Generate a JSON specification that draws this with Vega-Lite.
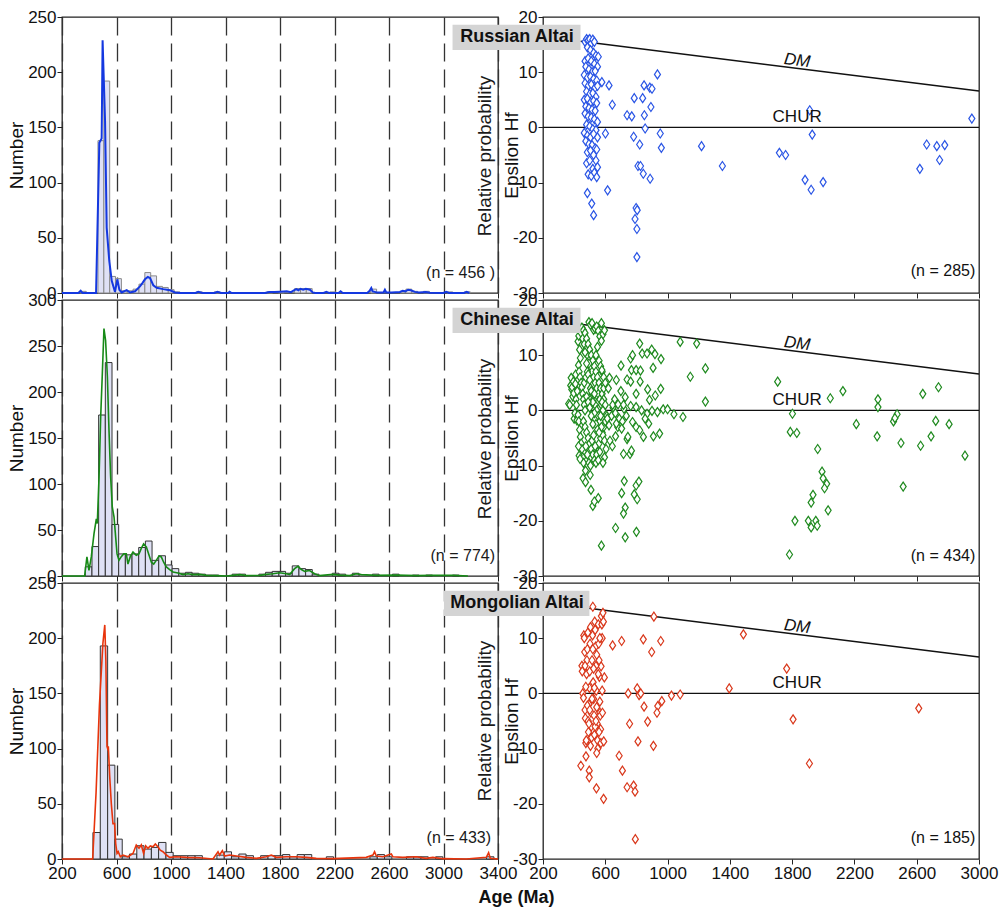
{
"$schema": "https://vega.github.io/schema/vega-lite/v6.json",
"padding": {"left": 6, "top": 7, "right": 5, "bottom": 5},
"background": "white",
"config": {
  "font": "Liberation Sans",
  "view": {"stroke": "#222", "strokeWidth": 1.3},
  "axis": {"labelFontSize": 17, "titleFontSize": 19, "titleFontWeight": "normal", "labelColor": "#111", "titleColor": "#111", "tickColor": "#222", "domain": false, "tickSize": 5, "labelPadding": 1, "grid": false, "labelFlush": false, "labelOverlap": false, "format": "d"}
},
"datasets": {
  "dm": [{"age": 441, "v": 15.6}, {"age": 3000, "v": 6.58}],
  "histR": [
    {"a0":335,"a1":378,"n":1.5},{"a0":464,"a1":507,"n":138},{"a0":507,"a1":550,"n":192},{"a0":550,"a1":593,"n":15},{"a0":593,"a1":636,"n":13},{"a0":636,"a1":679,"n":2},{"a0":679,"a1":722,"n":2},{"a0":722,"a1":765,"n":3.5},{"a0":765,"a1":808,"n":8},{"a0":808,"a1":851,"n":18.5},{"a0":851,"a1":894,"n":15.5},{"a0":894,"a1":937,"n":6},{"a0":937,"a1":980,"n":5},{"a0":980,"a1":1023,"n":3},{"a0":1023,"a1":1066,"n":1},{"a0":1187,"a1":1230,"n":1},{"a0":1316,"a1":1359,"n":1},{"a0":1703,"a1":1746,"n":1},{"a0":1789,"a1":1832,"n":1},{"a0":1907,"a1":1950,"n":4},{"a0":1950,"a1":1993,"n":4},{"a0":1993,"a1":2036,"n":4},{"a0":2165,"a1":2208,"n":1},{"a0":2466,"a1":2509,"n":3.5},{"a0":2681,"a1":2724,"n":1},{"a0":2724,"a1":2767,"n":3.5},{"a0":2767,"a1":2810,"n":1.5},{"a0":2853,"a1":2896,"n":1.5},{"a0":3025,"a1":3068,"n":1},{"a0":3154,"a1":3197,"n":1}
  ],
  "histC": [
    {"a0":371,"a1":420,"n":10},{"a0":420,"a1":469,"n":32},{"a0":469,"a1":518,"n":175},{"a0":518,"a1":567,"n":232},{"a0":567,"a1":616,"n":56},{"a0":616,"a1":665,"n":24},{"a0":665,"a1":714,"n":23},{"a0":714,"a1":763,"n":24},{"a0":763,"a1":812,"n":31},{"a0":812,"a1":861,"n":38},{"a0":861,"a1":910,"n":17},{"a0":910,"a1":959,"n":22},{"a0":959,"a1":1008,"n":12},{"a0":1008,"a1":1057,"n":8},{"a0":1057,"a1":1106,"n":3},{"a0":1106,"a1":1155,"n":4},{"a0":1155,"a1":1204,"n":3},{"a0":1204,"a1":1253,"n":2},{"a0":1253,"a1":1302,"n":1},{"a0":1302,"a1":1351,"n":1},{"a0":1449,"a1":1498,"n":2},{"a0":1498,"a1":1547,"n":2},{"a0":1645,"a1":1694,"n":2},{"a0":1694,"a1":1743,"n":4},{"a0":1743,"a1":1792,"n":5},{"a0":1792,"a1":1841,"n":5},{"a0":1841,"a1":1890,"n":3},{"a0":1890,"a1":1939,"n":11},{"a0":1939,"a1":1988,"n":8},{"a0":1988,"a1":2037,"n":7},{"a0":2037,"a1":2086,"n":2},{"a0":2184,"a1":2233,"n":3},{"a0":2233,"a1":2282,"n":2},{"a0":2331,"a1":2380,"n":3},{"a0":2478,"a1":2527,"n":2},{"a0":2625,"a1":2674,"n":2},{"a0":2772,"a1":2821,"n":1},{"a0":2870,"a1":2919,"n":1},{"a0":3066,"a1":3115,"n":1}
  ],
  "histM": [
    {"a0":427,"a1":481,"n":24},{"a0":481,"a1":535,"n":193},{"a0":535,"a1":588,"n":85},{"a0":588,"a1":642,"n":18},{"a0":642,"a1":695,"n":2},{"a0":695,"a1":749,"n":4.5},{"a0":749,"a1":802,"n":12},{"a0":802,"a1":856,"n":9},{"a0":856,"a1":909,"n":10.5},{"a0":909,"a1":963,"n":15},{"a0":963,"a1":1016,"n":6},{"a0":1016,"a1":1070,"n":3},{"a0":1070,"a1":1123,"n":3},{"a0":1123,"a1":1177,"n":3},{"a0":1177,"a1":1230,"n":3},{"a0":1337,"a1":1391,"n":3.5},{"a0":1391,"a1":1444,"n":6.5},{"a0":1444,"a1":1498,"n":2},{"a0":1498,"a1":1551,"n":4.5},{"a0":1551,"a1":1605,"n":3},{"a0":1658,"a1":1712,"n":3},{"a0":1712,"a1":1765,"n":3},{"a0":1765,"a1":1819,"n":3},{"a0":1819,"a1":1872,"n":4},{"a0":1872,"a1":1926,"n":2},{"a0":1926,"a1":1979,"n":4},{"a0":1979,"a1":2033,"n":4},{"a0":2140,"a1":2193,"n":2},{"a0":2460,"a1":2514,"n":2},{"a0":2514,"a1":2567,"n":4},{"a0":2567,"a1":2621,"n":2},{"a0":2728,"a1":2781,"n":2},{"a0":2781,"a1":2835,"n":2},{"a0":2835,"a1":2888,"n":2},{"a0":2942,"a1":2995,"n":2},{"a0":3316,"a1":3370,"n":2}
  ],
  "pdpR": [
    {"age":200,"p":0},{"age":320,"p":0},{"age":337,"p":2},{"age":350,"p":0},{"age":450,"p":0},{"age":474,"p":136},{"age":491,"p":140},{"age":498,"p":229},{"age":505,"p":200},{"age":516,"p":156},{"age":528,"p":59},{"age":547,"p":29},{"age":565,"p":11},{"age":589,"p":1},{"age":606,"p":12.4},{"age":621,"p":3},{"age":638,"p":0.5},{"age":675,"p":2.6},{"age":699,"p":0.5},{"age":736,"p":1.6},{"age":772,"p":6},{"age":790,"p":9},{"age":809,"p":12.4},{"age":830,"p":14.5},{"age":846,"p":13.6},{"age":870,"p":7},{"age":895,"p":4.8},{"age":943,"p":3.5},{"age":970,"p":3},{"age":993,"p":2.5},{"age":1029,"p":0.5},{"age":1066,"p":0},{"age":1180,"p":0},{"age":1200,"p":1},{"age":1230,"p":0},{"age":1320,"p":0},{"age":1340,"p":1},{"age":1370,"p":0},{"age":1420,"p":0},{"age":1430,"p":1.2},{"age":1445,"p":0},{"age":1690,"p":0},{"age":1720,"p":0.8},{"age":1760,"p":1},{"age":1800,"p":1.2},{"age":1850,"p":1.5},{"age":1880,"p":0.8},{"age":1905,"p":2.5},{"age":1920,"p":3.5},{"age":1935,"p":2.5},{"age":1950,"p":3.8},{"age":1970,"p":3},{"age":1990,"p":3.8},{"age":2020,"p":3},{"age":2040,"p":0.5},{"age":2060,"p":0},{"age":2120,"p":0},{"age":2140,"p":1},{"age":2160,"p":0},{"age":2230,"p":0},{"age":2245,"p":1.5},{"age":2260,"p":0},{"age":2440,"p":0},{"age":2458,"p":2},{"age":2470,"p":4.5},{"age":2480,"p":1.5},{"age":2495,"p":1},{"age":2510,"p":0.5},{"age":2560,"p":0.5},{"age":2570,"p":3},{"age":2580,"p":0.5},{"age":2620,"p":0.5},{"age":2680,"p":1},{"age":2700,"p":2},{"age":2720,"p":1.5},{"age":2740,"p":3},{"age":2760,"p":2.5},{"age":2790,"p":1},{"age":2820,"p":0.5},{"age":2870,"p":1},{"age":2900,"p":0.3},{"age":3000,"p":0},{"age":3020,"p":1},{"age":3040,"p":0},{"age":3150,"p":0},{"age":3170,"p":1},{"age":3190,"p":0}
  ],
  "pdpC": [
    {"age":200,"p":0},{"age":366,"p":0},{"age":383,"p":20.7},{"age":398,"p":6},{"age":415,"p":20.7},{"age":435,"p":46},{"age":452,"p":62},{"age":459,"p":57},{"age":472,"p":108},{"age":484,"p":173},{"age":496,"p":220},{"age":508,"p":269},{"age":520,"p":256},{"age":533,"p":216.5},{"age":545,"p":158},{"age":557,"p":108},{"age":569,"p":75},{"age":582,"p":64},{"age":594,"p":42},{"age":604,"p":24},{"age":618,"p":17},{"age":635,"p":21},{"age":653,"p":24},{"age":672,"p":24},{"age":684,"p":13},{"age":701,"p":21},{"age":721,"p":26},{"age":745,"p":22.5},{"age":765,"p":24},{"age":782,"p":30},{"age":799,"p":35},{"age":819,"p":31.6},{"age":836,"p":24},{"age":856,"p":15},{"age":873,"p":13},{"age":892,"p":17},{"age":912,"p":21.8},{"age":929,"p":20.7},{"age":946,"p":15},{"age":966,"p":9.8},{"age":990,"p":7},{"age":1015,"p":4.4},{"age":1051,"p":3.3},{"age":1088,"p":1.5},{"age":1125,"p":2.5},{"age":1161,"p":1.5},{"age":1210,"p":1.8},{"age":1259,"p":0.7},{"age":1332,"p":0.4},{"age":1406,"p":0},{"age":1455,"p":0.7},{"age":1504,"p":1.5},{"age":1553,"p":0.4},{"age":1651,"p":0.7},{"age":1699,"p":1.8},{"age":1748,"p":2.5},{"age":1797,"p":3.6},{"age":1846,"p":2.5},{"age":1871,"p":1.5},{"age":1907,"p":8},{"age":1932,"p":10.5},{"age":1957,"p":7},{"age":1981,"p":5},{"age":2017,"p":6},{"age":2054,"p":2.5},{"age":2091,"p":0.4},{"age":2189,"p":1.8},{"age":2238,"p":1},{"age":2311,"p":0.4},{"age":2360,"p":2.5},{"age":2397,"p":1.5},{"age":2507,"p":0.7},{"age":2653,"p":1},{"age":2800,"p":0.4},{"age":2922,"p":0.7},{"age":3069,"p":0.7},{"age":3179,"p":0}
  ],
  "pdpM": [
    {"age":200,"p":0},{"age":425,"p":0},{"age":450,"p":60},{"age":475,"p":140},{"age":500,"p":195},{"age":514,"p":212},{"age":522,"p":180},{"age":530,"p":102},{"age":535,"p":100},{"age":540,"p":102},{"age":550,"p":75},{"age":562,"p":50},{"age":574,"p":32},{"age":586,"p":32},{"age":594,"p":14},{"age":604,"p":5},{"age":613,"p":6.6},{"age":628,"p":2},{"age":648,"p":3.6},{"age":684,"p":2},{"age":721,"p":5},{"age":745,"p":12.7},{"age":765,"p":9.7},{"age":782,"p":12.7},{"age":799,"p":5},{"age":814,"p":12},{"age":831,"p":9.7},{"age":848,"p":11.8},{"age":868,"p":11},{"age":885,"p":13.6},{"age":904,"p":11},{"age":921,"p":8},{"age":941,"p":6.6},{"age":966,"p":3.6},{"age":990,"p":1.5},{"age":1039,"p":2},{"age":1112,"p":1.5},{"age":1210,"p":1.2},{"age":1308,"p":0},{"age":1345,"p":6.6},{"age":1357,"p":3.6},{"age":1377,"p":7.6},{"age":1394,"p":2.7},{"age":1431,"p":3.6},{"age":1480,"p":2.7},{"age":1553,"p":1.5},{"age":1626,"p":0.6},{"age":1699,"p":2},{"age":1736,"p":3.6},{"age":1773,"p":1.5},{"age":1846,"p":2},{"age":1920,"p":2},{"age":1993,"p":1.5},{"age":2066,"p":0.6},{"age":2189,"p":0.3},{"age":2433,"p":1.5},{"age":2482,"p":3.6},{"age":2494,"p":6.6},{"age":2507,"p":2.7},{"age":2556,"p":2},{"age":2617,"p":4.5},{"age":2629,"p":2},{"age":2702,"p":1.5},{"age":2800,"p":2},{"age":2873,"p":0.6},{"age":2922,"p":1.5},{"age":2996,"p":0.3},{"age":3167,"p":0},{"age":3314,"p":1.5},{"age":3331,"p":5.7},{"age":3343,"p":0.6},{"age":3400,"p":0}
  ],
  "hfR": [
    {"age":578,"e":8.2},{"age":624,"e":7.6},{"age":645,"e":4.1},{"age":601,"e":-1.1},{"age":615,"e":-11.4},{"age":740,"e":2.2},{"age":770,"e":2.0},{"age":786,"e":5.3},{"age":840,"e":5.3},{"age":849,"e":7.6},{"age":886,"e":7.2},{"age":900,"e":7.0},{"age":935,"e":9.6},{"age":893,"e":3.7},{"age":851,"e":2.2},{"age":856,"e":-0.2},{"age":782,"e":-1.7},{"age":821,"e":-3.1},{"age":810,"e":-7.0},{"age":826,"e":-7.0},{"age":844,"e":-8.4},{"age":888,"e":-9.3},{"age":953,"e":-1.1},{"age":960,"e":-3.7},{"age":798,"e":-14.6},{"age":805,"e":-15.0},{"age":791,"e":-16.6},{"age":803,"e":-18.4},{"age":803,"e":-23.5},{"age":1218,"e":-3.4},{"age":1352,"e":-7.0},{"age":1718,"e":-4.6},{"age":1758,"e":-5.0},{"age":1883,"e":-9.5},{"age":1922,"e":-11.3},{"age":1999,"e":-9.9},{"age":1913,"e":3.1},{"age":1929,"e":-1.3},{"age":2620,"e":-7.5},{"age":2664,"e":-3.1},{"age":2729,"e":-3.4},{"age":2747,"e":-5.9},{"age":2780,"e":-3.2},{"age":2954,"e":1.6},
    {"age":470,"e":15.5},{"age":480,"e":16},{"age":490,"e":15.8},{"age":500,"e":16},{"age":510,"e":15.2},{"age":520,"e":15.9},{"age":530,"e":15.5},{"age":485,"e":14.5},{"age":505,"e":14},{"age":525,"e":13.5},{"age":540,"e":13},{"age":555,"e":12.8},{"age":470,"e":12},{"age":490,"e":12.5},{"age":510,"e":12},{"age":530,"e":11.5},{"age":550,"e":11},{"age":475,"e":11},{"age":495,"e":10.5},{"age":515,"e":10},{"age":535,"e":10.2},{"age":465,"e":9.5},{"age":485,"e":9},{"age":505,"e":9.2},{"age":525,"e":8.8},{"age":545,"e":8.5},{"age":470,"e":8},{"age":490,"e":7.5},{"age":510,"e":7.8},{"age":530,"e":7},{"age":550,"e":7.5},{"age":480,"e":6.5},{"age":500,"e":6},{"age":520,"e":6.2},{"age":540,"e":5.5},{"age":465,"e":5},{"age":485,"e":5.2},{"age":505,"e":4.5},{"age":525,"e":4.8},{"age":545,"e":4.4},{"age":475,"e":3.8},{"age":495,"e":3.5},{"age":515,"e":3.2},{"age":535,"e":3},{"age":470,"e":2.5},{"age":490,"e":2},{"age":510,"e":1.8},{"age":530,"e":1.5},{"age":550,"e":1},{"age":480,"e":0.5},{"age":500,"e":0.2},{"age":520,"e":-0.3},{"age":540,"e":-0.5},{"age":465,"e":-1},{"age":485,"e":-1.5},{"age":505,"e":-1.8},{"age":525,"e":-1.2},{"age":550,"e":-1.8},{"age":475,"e":-2.5},{"age":495,"e":-3},{"age":515,"e":-3.2},{"age":535,"e":-3.8},{"age":485,"e":-4.5},{"age":505,"e":-4.2},{"age":525,"e":-5},{"age":545,"e":-4},{"age":480,"e":-6.5},{"age":500,"e":-6},{"age":520,"e":-7.5},{"age":540,"e":-6},{"age":490,"e":-8.5},{"age":510,"e":-8.8},{"age":530,"e":-8.2},{"age":545,"e":-9},{"age":485,"e":-11.9},{"age":513,"e":-13.8},{"age":525,"e":-15.9},{"age":550,"e":-7.2}
  ],
  "hfC": [
    {"age":365,"e":1.2},{"age":372,"e":1.0},{"age":378,"e":4.5},{"age":381,"e":5.9},{"age":385,"e":3.8},{"age":388,"e":4.2},{"age":392,"e":2.5},{"age":395,"e":5.2},{"age":398,"e":3.1},{"age":400,"e":-1.5},{"age":405,"e":-0.5},{"age":408,"e":4.8},{"age":410,"e":6.5},{"age":412,"e":2},{"age":415,"e":1},{"age":418,"e":-1.8},{"age":420,"e":3.5},
    {"age":425,"e":12.5},{"age":430,"e":13.5},{"age":435,"e":11},{"age":440,"e":9.5},{"age":428,"e":8.2},{"age":432,"e":7},{"age":438,"e":6},{"age":445,"e":5},{"age":450,"e":4.2},{"age":455,"e":3},{"age":460,"e":2},{"age":465,"e":1},{"age":470,"e":0},{"age":425,"e":-0.8},{"age":430,"e":-2},{"age":435,"e":-3.5},{"age":440,"e":-4.8},{"age":445,"e":-6},{"age":450,"e":-7},{"age":455,"e":-8.5},{"age":460,"e":-9.5},{"age":428,"e":-6.5},{"age":432,"e":-8.2},{"age":438,"e":-8.8},
    {"age":445,"e":14},{"age":455,"e":13},{"age":465,"e":12},{"age":475,"e":11},{"age":485,"e":10},{"age":495,"e":9},{"age":505,"e":8},{"age":515,"e":7},{"age":525,"e":6},{"age":535,"e":5},{"age":545,"e":4},{"age":555,"e":3},{"age":565,"e":2},{"age":575,"e":1},{"age":585,"e":0},
    {"age":450,"e":15},{"age":460,"e":14.5},{"age":470,"e":14},{"age":480,"e":13},{"age":490,"e":12},{"age":500,"e":11},{"age":510,"e":10},{"age":520,"e":9},{"age":530,"e":8},{"age":540,"e":7},{"age":550,"e":6},{"age":560,"e":5},{"age":570,"e":4},{"age":580,"e":3},{"age":590,"e":2},
    {"age":495,"e":16},{"age":505,"e":15.5},{"age":515,"e":15.8},{"age":525,"e":14.6},{"age":535,"e":14.8},{"age":545,"e":15.2},{"age":555,"e":14.4},{"age":565,"e":13.4},{"age":575,"e":15.8},{"age":585,"e":13.8},{"age":595,"e":14.5},{"age":575,"e":12.6},
    {"age":460,"e":-2},{"age":470,"e":-3},{"age":480,"e":-4},{"age":490,"e":-5},{"age":500,"e":-6},{"age":510,"e":-7},{"age":520,"e":-8},{"age":530,"e":-9},{"age":540,"e":-9.5},{"age":550,"e":-7.5},{"age":560,"e":-6},{"age":570,"e":-5},{"age":580,"e":-4},{"age":590,"e":-3},{"age":600,"e":-2},
    {"age":465,"e":5},{"age":475,"e":6},{"age":485,"e":7},{"age":495,"e":8.5},{"age":505,"e":4},{"age":515,"e":3},{"age":525,"e":2},{"age":535,"e":1},{"age":545,"e":0},{"age":555,"e":-1},{"age":565,"e":-2},{"age":575,"e":-3},{"age":585,"e":-4.5},{"age":595,"e":-5.5},
    {"age":470,"e":10.5},{"age":480,"e":8.5},{"age":490,"e":6.5},{"age":500,"e":5.5},{"age":510,"e":3.5},{"age":520,"e":1.5},{"age":530,"e":-0.5},{"age":540,"e":-2.5},{"age":550,"e":-3.5},{"age":560,"e":-4},{"age":570,"e":-1},{"age":580,"e":1.5},{"age":590,"e":4},
    {"age":475,"e":-6.5},{"age":485,"e":-8},{"age":495,"e":-9.5},{"age":505,"e":-10},{"age":515,"e":-5.5},{"age":525,"e":-4.5},{"age":535,"e":-6.5},{"age":545,"e":-8},{"age":555,"e":-9},{"age":565,"e":-7.5},
    {"age":480,"e":2.5},{"age":490,"e":1.5},{"age":500,"e":0.5},{"age":510,"e":-1},{"age":520,"e":-2.5},{"age":530,"e":3},{"age":540,"e":10},{"age":550,"e":11.5},{"age":560,"e":9},{"age":570,"e":8},{"age":580,"e":7},{"age":590,"e":6},{"age":600,"e":5},
    {"age":600,"e":1},{"age":610,"e":-1},{"age":595,"e":-8.5},{"age":605,"e":-7},{"age":585,"e":-9.5},
    {"age":457,"e":-12.3},{"age":473,"e":-10.9},{"age":473,"e":-13},{"age":503,"e":-11.7},{"age":508,"e":-14.4},{"age":555,"e":-15.9},{"age":520,"e":-17.3},{"age":530,"e":-16.5},
    {"age":620,"e":4},{"age":640,"e":-1},{"age":650,"e":0.5},{"age":660,"e":2},{"age":680,"e":-3},{"age":630,"e":-5.5},{"age":645,"e":-6.5},{"age":665,"e":-0.5},{"age":690,"e":-1.5},{"age":700,"e":3.5},{"age":710,"e":-2},{"age":720,"e":0.3},{"age":735,"e":-1},
    {"age":578,"e":7.3},{"age":627,"e":5.9},{"age":671,"e":5.5},{"age":701,"e":8.1},{"age":740,"e":5.6},{"age":763,"e":5.2},{"age":768,"e":7.3},{"age":821,"e":12.1},{"age":763,"e":9.4},{"age":775,"e":10},{"age":798,"e":7.3},{"age":826,"e":7.2},{"age":837,"e":10.3},{"age":868,"e":10.3},{"age":898,"e":11},{"age":919,"e":10.2},{"age":958,"e":9.3},{"age":907,"e":7.7},{"age":872,"e":3.8},{"age":921,"e":2.7},{"age":956,"e":3.9},{"age":884,"e":1.9},{"age":824,"e":5.2},{"age":798,"e":3},{"age":728,"e":2.4},{"age":647,"e":1},{"age":682,"e":1.1},{"age":717,"e":1},{"age":763,"e":0.8},{"age":798,"e":0.6},{"age":833,"e":0},{"age":868,"e":-0.6},{"age":900,"e":-0.1},{"age":935,"e":-0.3},{"age":972,"e":0.2},{"age":1000,"e":0.2},{"age":1041,"e":-0.7},{"age":1099,"e":-1.2},{"age":1081,"e":12.4},{"age":1187,"e":12.1},{"age":1146,"e":6.1},{"age":1243,"e":7.6},{"age":1243,"e":1.6},{"age":613,"e":-1.5},{"age":624,"e":-2.7},{"age":671,"e":-2.4},{"age":666,"e":-4.7},{"age":705,"e":-3.3},{"age":740,"e":-5.2},{"age":717,"e":-7.9},{"age":745,"e":-4.8},{"age":759,"e":-7.9},{"age":768,"e":-7.3},{"age":775,"e":-2.1},{"age":798,"e":-3},{"age":821,"e":-3.6},{"age":845,"e":-4.8},{"age":856,"e":-1.5},{"age":879,"e":-2.4},{"age":909,"e":-4.7},{"age":949,"e":-4.2},{"age":722,"e":-12.8},{"age":705,"e":-15},{"age":728,"e":-17.6},{"age":717,"e":-18.7},{"age":786,"e":-15.2},{"age":798,"e":-13.6},{"age":816,"e":-12.9},{"age":805,"e":-16.1},{"age":666,"e":-21.3},{"age":728,"e":-23},{"age":800,"e":-22},{"age":575,"e":-24.5},
    {"age":1707,"e":5.2},{"age":1802,"e":-0.6},{"age":1788,"e":-3.9},{"age":1830,"e":-4.1},{"age":1964,"e":-7},{"age":1992,"e":-11.1},{"age":1934,"e":-15.3},{"age":1922,"e":-16.7},{"age":1999,"e":-12.3},{"age":2022,"e":-13.3},{"age":2008,"e":-14.1},{"age":2031,"e":-18.1},{"age":1818,"e":-20},{"age":1904,"e":-20},{"age":1922,"e":-21.2},{"age":1952,"e":-20},{"age":1961,"e":-20.9},{"age":1783,"e":-26.1},{"age":2045,"e":2.2},{"age":2126,"e":3.5},{"age":2212,"e":-2.5},{"age":2351,"e":2},{"age":2351,"e":0.6},{"age":2346,"e":-4.7},{"age":2451,"e":-2},{"age":2474,"e":-0.7},{"age":2460,"e":-1.4},{"age":2499,"e":-5.9},{"age":2513,"e":-13.8},{"age":2625,"e":-6.4},{"age":2639,"e":3},{"age":2692,"e":-4.7},{"age":2722,"e":-1.9},{"age":2740,"e":4.2},{"age":2808,"e":-2.5},{"age":2910,"e":-8.2}
  ],
  "hfM": [
    {"age":647,"e":8.7},{"age":705,"e":9.5},{"age":844,"e":9.8},{"age":956,"e":9.5},{"age":912,"e":13.9},{"age":898,"e":7.5},{"age":1487,"e":10.7},{"age":573,"e":4.9},{"age":594,"e":2.9},{"age":747,"e":0},{"age":805,"e":0.9},{"age":817,"e":-0.3},{"age":828,"e":0},{"age":1025,"e":-0.4},{"age":1081,"e":-0.2},{"age":1396,"e":0.9},{"age":1765,"e":4.5},{"age":963,"e":-1.4},{"age":937,"e":-2.3},{"age":932,"e":-3.5},{"age":849,"e":-2.4},{"age":872,"e":-5.1},{"age":756,"e":-5.5},{"age":810,"e":-8.7},{"age":909,"e":-9.5},{"age":566,"e":-3.5},{"age":689,"e":-11.3},{"age":710,"e":-14},{"age":740,"e":-17},{"age":782,"e":-16.7},{"age":791,"e":-17.8},{"age":589,"e":-19.1},{"age":543,"e":-17.2},{"age":497,"e":-14},{"age":497,"e":-15.2},{"age":443,"e":-13.1},{"age":476,"e":-11.4},{"age":793,"e":-26.4},{"age":1806,"e":-4.7},{"age":1911,"e":-12.7},{"age":2613,"e":-2.7},
    {"age":450,"e":5},{"age":452,"e":4},{"age":455,"e":0},{"age":460,"e":-0.8},{"age":462,"e":10.5},{"age":465,"e":10},{"age":468,"e":7.5},{"age":470,"e":-3},{"age":472,"e":-4.5},{"age":475,"e":-9},{"age":478,"e":-8.5},{"age":480,"e":3.5},{"age":482,"e":6},{"age":485,"e":8},{"age":488,"e":11},{"age":490,"e":-5},{"age":492,"e":-7},{"age":495,"e":-2},{"age":498,"e":1},{"age":500,"e":4},{"age":502,"e":9},{"age":505,"e":12},{"age":508,"e":-3.5},{"age":510,"e":-6},{"age":512,"e":-8},{"age":515,"e":6},{"age":518,"e":10.5},{"age":520,"e":15.7},{"age":522,"e":2},{"age":525,"e":-1},{"age":528,"e":-4},{"age":530,"e":-7.5},{"age":532,"e":13},{"age":535,"e":11.5},{"age":538,"e":8.5},{"age":540,"e":5},{"age":542,"e":0.5},{"age":545,"e":-2.5},{"age":548,"e":-5.5},{"age":550,"e":-8.5},{"age":552,"e":-10},{"age":555,"e":12.5},{"age":558,"e":9},{"age":560,"e":6},{"age":562,"e":3},{"age":565,"e":-1.5},{"age":568,"e":-4},{"age":570,"e":-6.5},{"age":572,"e":-9},{"age":575,"e":14},{"age":578,"e":12.5},{"age":580,"e":10},{"age":582,"e":-3.5},{"age":585,"e":14.6},{"age":588,"e":13},{"age":590,"e":-8.7},{"age":545,"e":-10.8},{"age":470,"e":5},{"age":475,"e":1.2},{"age":485,"e":-2.2},{"age":495,"e":-5.5},{"age":505,"e":-9.5},{"age":515,"e":-1},{"age":525,"e":4.5},{"age":535,"e":-6},{"age":545,"e":7},{"age":555,"e":3.5},{"age":565,"e":10},{"age":540,"e":-5},{"age":560,"e":-7},{"age":580,"e":0.5},{"age":500,"e":-3},{"age":520,"e":8},{"age":530,"e":1}
  ]
},
"columns": 2,
"spacing": {"row": 7, "column": 45},
"bounds": "flush",
"concat": [
  {"width": 436, "height": 276, "layer": [
    {"data": {"name": "histR"}, "mark": {"type": "rect", "fill": "#dfe1f5", "stroke": "#8a8a8a", "strokeWidth": 1},
     "encoding": {
       "x": {"field": "a0", "type": "quantitative", "scale": {"domain": [200, 3400], "nice": false, "zero": false}, "axis": {"values": [200,600,1000,1400,1800,2200,2600,3000,3400], "labels": false, "title": null, "grid": true, "gridDash": [18, 8], "gridColor": "#333", "gridWidth": 1.3}},
       "x2": {"field": "a1"},
       "y": {"field": "n", "type": "quantitative", "scale": {"domain": [0, 250], "nice": false}, "axis": {"values": [0,25,50,75,100,125,150,175,200,225,250], "labelExpr": "datum.value % 50 === 0 ? '' + datum.value : ''", "title": "Number", "titlePadding": 1}},
       "y2": {"datum": 0}}},
    {"data": {"name": "pdpR"}, "mark": {"type": "line", "color": "#1438e0", "strokeWidth": 2}, "encoding": {"x": {"field": "age", "type": "quantitative"}, "y": {"field": "p", "type": "quantitative"}}},
    {"data": {"values": [{}]}, "mark": {"type": "text", "angle": 270, "fontSize": 19, "color": "#1a1a1a"}, "encoding": {"x": {"datum": 3305}, "y": {"datum": 124}, "text": {"value": "Relative probability"}}},
    {"data": {"values": [{}]}, "mark": {"type": "text", "align": "right", "fontSize": 16, "color": "#1a1a1a"}, "encoding": {"x": {"datum": 3378}, "y": {"datum": 18.4}, "text": {"value": "(n = 456 )"}}}
  ]},
  {"width": 436, "height": 276, "layer": [
    {"data": {"name": "dm"}, "mark": {"type": "line", "color": "#111", "strokeWidth": 1.5},
     "encoding": {"x": {"field": "age", "type": "quantitative", "scale": {"domain": [200, 3000], "nice": false, "zero": false}, "axis": {"values": [200,600,1000,1400,1800,2200,2600,3000], "labels": false, "title": null}},
       "y": {"field": "v", "type": "quantitative", "scale": {"domain": [-30, 20], "nice": false, "zero": false}, "axis": {"values": [-30,-25,-20,-15,-10,-5,0,5,10,15,20], "labelExpr": "datum.value % 10 === 0 ? '' + datum.value : ''", "title": "Epslion Hf", "titlePadding": -9}}}},
    {"data": {"values": [{}]}, "mark": {"type": "rule", "color": "#111", "strokeWidth": 1.3}, "encoding": {"y": {"datum": 0}}},
    {"data": {"name": "hfR"}, "mark": {"type": "point", "shape": "M0,-1L0.67,0L0,1L-0.67,0Z", "size": 81, "fill": "white", "fillOpacity": 1, "stroke": "#2a55e5", "strokeWidth": 1.2, "opacity": 1}, "encoding": {"x": {"field": "age", "type": "quantitative"}, "y": {"field": "e", "type": "quantitative"}}},
    {"data": {"values": [{}]}, "mark": {"type": "rect", "fill": "#d4d4d4"}, "encoding": {"x": {"datum": -381}, "x2": {"datum": 441}, "y": {"datum": 14.0}, "y2": {"datum": 18.6}}},
    {"data": {"values": [{}]}, "mark": {"type": "text", "fontSize": 18, "fontWeight": "bold", "color": "#111"}, "encoding": {"x": {"datum": 33}, "y": {"datum": 16.3}, "text": {"value": "Russian Altai"}}},
    {"data": {"values": [{}]}, "mark": {"type": "text", "fontSize": 17, "fontStyle": "italic", "angle": 7, "color": "#111"}, "encoding": {"x": {"datum": 1832}, "y": {"datum": 12.1}, "text": {"value": "DM"}}},
    {"data": {"values": [{}]}, "mark": {"type": "text", "fontSize": 17, "color": "#111"}, "encoding": {"x": {"datum": 1832}, "y": {"datum": 1.8}, "text": {"value": "CHUR"}}},
    {"data": {"values": [{}]}, "mark": {"type": "text", "align": "right", "fontSize": 16, "color": "#111"}, "encoding": {"x": {"datum": 2976}, "y": {"datum": -26}, "text": {"value": "(n = 285)"}}}
  ]},
  {"width": 436, "height": 276, "layer": [
    {"data": {"name": "histC"}, "mark": {"type": "rect", "fill": "#dfe1f5", "stroke": "#333", "strokeWidth": 1},
     "encoding": {
       "x": {"field": "a0", "type": "quantitative", "scale": {"domain": [200, 3400], "nice": false, "zero": false}, "axis": {"values": [200,600,1000,1400,1800,2200,2600,3000,3400], "labels": false, "title": null, "grid": true, "gridDash": [18, 8], "gridColor": "#333", "gridWidth": 1.3}},
       "x2": {"field": "a1"},
       "y": {"field": "n", "type": "quantitative", "scale": {"domain": [0, 300], "nice": false}, "axis": {"values": [0,25,50,75,100,125,150,175,200,225,250,275,300], "labelExpr": "datum.value % 50 === 0 ? '' + datum.value : ''", "title": "Number", "titlePadding": 1}},
       "y2": {"datum": 0}}},
    {"data": {"name": "pdpC"}, "mark": {"type": "line", "color": "#178a17", "strokeWidth": 1.6}, "encoding": {"x": {"field": "age", "type": "quantitative"}, "y": {"field": "p", "type": "quantitative"}}},
    {"data": {"values": [{}]}, "mark": {"type": "text", "angle": 270, "fontSize": 19, "color": "#1a1a1a"}, "encoding": {"x": {"datum": 3305}, "y": {"datum": 149}, "text": {"value": "Relative probability"}}},
    {"data": {"values": [{}]}, "mark": {"type": "text", "align": "right", "fontSize": 16, "color": "#1a1a1a"}, "encoding": {"x": {"datum": 3378}, "y": {"datum": 21.8}, "text": {"value": "(n =  774)"}}}
  ]},
  {"width": 436, "height": 276, "layer": [
    {"data": {"name": "dm"}, "mark": {"type": "line", "color": "#111", "strokeWidth": 1.5},
     "encoding": {"x": {"field": "age", "type": "quantitative", "scale": {"domain": [200, 3000], "nice": false, "zero": false}, "axis": {"values": [200,600,1000,1400,1800,2200,2600,3000], "labels": false, "title": null}},
       "y": {"field": "v", "type": "quantitative", "scale": {"domain": [-30, 20], "nice": false, "zero": false}, "axis": {"values": [-30,-25,-20,-15,-10,-5,0,5,10,15,20], "labelExpr": "datum.value % 10 === 0 ? '' + datum.value : ''", "title": "Epslion Hf", "titlePadding": -9}}}},
    {"data": {"values": [{}]}, "mark": {"type": "rule", "color": "#111", "strokeWidth": 1.3}, "encoding": {"y": {"datum": 0}}},
    {"data": {"name": "hfC"}, "mark": {"type": "point", "shape": "M0,-1L0.67,0L0,1L-0.67,0Z", "size": 81, "fill": "white", "fillOpacity": 1, "stroke": "#1f8a1f", "strokeWidth": 1.2, "opacity": 1}, "encoding": {"x": {"field": "age", "type": "quantitative"}, "y": {"field": "e", "type": "quantitative"}}},
    {"data": {"values": [{}]}, "mark": {"type": "rect", "fill": "#d4d4d4"}, "encoding": {"x": {"datum": -381}, "x2": {"datum": 441}, "y": {"datum": 14.0}, "y2": {"datum": 18.6}}},
    {"data": {"values": [{}]}, "mark": {"type": "text", "fontSize": 18, "fontWeight": "bold", "color": "#111"}, "encoding": {"x": {"datum": 33}, "y": {"datum": 16.3}, "text": {"value": "Chinese Altai"}}},
    {"data": {"values": [{}]}, "mark": {"type": "text", "fontSize": 17, "fontStyle": "italic", "angle": 7, "color": "#111"}, "encoding": {"x": {"datum": 1832}, "y": {"datum": 12.1}, "text": {"value": "DM"}}},
    {"data": {"values": [{}]}, "mark": {"type": "text", "fontSize": 17, "color": "#111"}, "encoding": {"x": {"datum": 1832}, "y": {"datum": 1.8}, "text": {"value": "CHUR"}}},
    {"data": {"values": [{}]}, "mark": {"type": "text", "align": "right", "fontSize": 16, "color": "#111"}, "encoding": {"x": {"datum": 2976}, "y": {"datum": -26.3}, "text": {"value": "(n = 434)"}}}
  ]},
  {"width": 436, "height": 276, "layer": [
    {"data": {"name": "histM"}, "mark": {"type": "rect", "fill": "#dfe1f5", "stroke": "#333", "strokeWidth": 1},
     "encoding": {
       "x": {"field": "a0", "type": "quantitative", "scale": {"domain": [200, 3400], "nice": false, "zero": false}, "axis": {"values": [200,600,1000,1400,1800,2200,2600,3000,3400], "title": null, "grid": true, "gridDash": [18, 8], "gridColor": "#333", "gridWidth": 1.3}},
       "x2": {"field": "a1"},
       "y": {"field": "n", "type": "quantitative", "scale": {"domain": [0, 250], "nice": false}, "axis": {"values": [0,25,50,75,100,125,150,175,200,225,250], "labelExpr": "datum.value % 50 === 0 ? '' + datum.value : ''", "title": "Number", "titlePadding": 1}},
       "y2": {"datum": 0}}},
    {"data": {"name": "pdpM"}, "mark": {"type": "line", "color": "#e8340c", "strokeWidth": 1.6}, "encoding": {"x": {"field": "age", "type": "quantitative"}, "y": {"field": "p", "type": "quantitative"}}},
    {"data": {"values": [{}]}, "mark": {"type": "text", "angle": 270, "fontSize": 19, "color": "#1a1a1a"}, "encoding": {"x": {"datum": 3305}, "y": {"datum": 125}, "text": {"value": "Relative probability"}}},
    {"data": {"values": [{}]}, "mark": {"type": "text", "align": "right", "fontSize": 16, "color": "#1a1a1a"}, "encoding": {"x": {"datum": 3349}, "y": {"datum": 19.3}, "text": {"value": "(n = 433)"}}}
  ]},
  {"width": 436, "height": 276, "layer": [
    {"data": {"name": "dm"}, "mark": {"type": "line", "color": "#111", "strokeWidth": 1.5},
     "encoding": {"x": {"field": "age", "type": "quantitative", "scale": {"domain": [200, 3000], "nice": false, "zero": false}, "axis": {"values": [200,600,1000,1400,1800,2200,2600,3000], "title": "Age (Ma)", "titleFontWeight": "bold", "titleFontSize": 18, "titleX": -27, "titleY": 43, "titleAlign": "center", "titleBaseline": "alphabetic"}},
       "y": {"field": "v", "type": "quantitative", "scale": {"domain": [-30, 20], "nice": false, "zero": false}, "axis": {"values": [-30,-25,-20,-15,-10,-5,0,5,10,15,20], "labelExpr": "datum.value % 10 === 0 ? '' + datum.value : ''", "title": "Epslion Hf", "titlePadding": -9}}}},
    {"data": {"values": [{}]}, "mark": {"type": "rule", "color": "#111", "strokeWidth": 1.3}, "encoding": {"y": {"datum": 0}}},
    {"data": {"name": "hfM"}, "mark": {"type": "point", "shape": "M0,-1L0.67,0L0,1L-0.67,0Z", "size": 81, "fill": "white", "fillOpacity": 1, "stroke": "#d9381c", "strokeWidth": 1.2, "opacity": 1}, "encoding": {"x": {"field": "age", "type": "quantitative"}, "y": {"field": "e", "type": "quantitative"}}},
    {"data": {"values": [{}]}, "mark": {"type": "rect", "fill": "#d4d4d4"}, "encoding": {"x": {"datum": -436}, "x2": {"datum": 498}, "y": {"datum": 14.0}, "y2": {"datum": 18.6}}},
    {"data": {"values": [{}]}, "mark": {"type": "text", "fontSize": 18, "fontWeight": "bold", "color": "#111"}, "encoding": {"x": {"datum": 33}, "y": {"datum": 16.3}, "text": {"value": "Mongolian Altai"}}},
    {"data": {"values": [{}]}, "mark": {"type": "text", "fontSize": 17, "fontStyle": "italic", "angle": 7, "color": "#111"}, "encoding": {"x": {"datum": 1832}, "y": {"datum": 12.1}, "text": {"value": "DM"}}},
    {"data": {"values": [{}]}, "mark": {"type": "text", "fontSize": 17, "color": "#111"}, "encoding": {"x": {"datum": 1832}, "y": {"datum": 1.8}, "text": {"value": "CHUR"}}},
    {"data": {"values": [{}]}, "mark": {"type": "text", "align": "right", "fontSize": 16, "color": "#111"}, "encoding": {"x": {"datum": 2976}, "y": {"datum": -26.2}, "text": {"value": "(n = 185)"}}}
  ]}
]
}
